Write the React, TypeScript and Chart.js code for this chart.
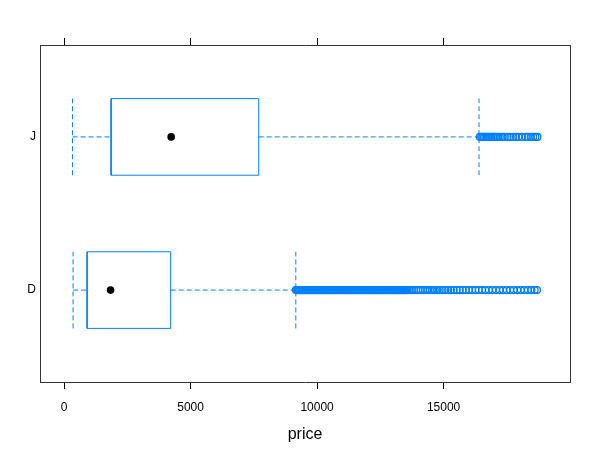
import React, { useEffect, useRef } from "react";
import { Chart, registerables } from "chart.js";

Chart.register(...registerables);

// Categories (bottom to top)
const categories = ["D", "J"];
const categoryPos = [1, 2];

// Five-number summaries
const lowerWhisker = [357, 335];
const q1 = [911, 1860];
const median = [1838, 4234];
const q3 = [4214, 7695];
const upperWhisker = [9160, 16400];

// Outliers
const outliersD = [
  9160, 9195, 9232, 9270, 9306, 9345, 9381, 9420, 9457, 9494, 9532, 9570, 9607,
  9645, 9683, 9720, 9758, 9796, 9833, 9871, 9909, 9946, 9984, 10022, 10060,
  10098, 10135, 10173, 10211, 10249, 10287, 10325, 10362, 10400, 10438, 10476,
  10514, 10552, 10590, 10628, 10666, 10704, 10742, 10780, 10818, 10856, 10894,
  10932, 10970, 11008, 11046, 11084, 11122, 11160, 11198, 11236, 11274, 11312,
  11350, 11388, 11426, 11464, 11502, 11540, 11578, 11616, 11654, 11692, 11730,
  11768, 11806, 11844, 11882, 11920, 11958, 11996, 12034, 12072, 12110, 12148,
  12186, 12224, 12262, 12300, 12338, 12376, 12414, 12452, 12490, 12528, 12566,
  12604, 12642, 12680, 12718, 12756, 12794, 12832, 12870, 12908, 12946, 12984,
  13022, 13060, 13098, 13136, 13174, 13212, 13250, 13288, 13326, 13364, 13402,
  13440, 13478, 13516, 13580, 13660, 13745, 13830, 13915, 14000, 14090, 14180,
  14270, 14360, 14455, 14550, 14650, 14750, 14850, 14960, 15070, 15180, 15290,
  15400, 15520, 15640, 15760, 15880, 16000, 16130, 16260, 16390, 16520, 16650,
  16790, 16930, 17070, 17210, 17350, 17490, 17630, 17770, 17910, 18050, 18190,
  18330, 18470, 18600, 18693,
];
const outliersJ = [
  16430, 16480, 16538, 16590, 16650, 16712, 16770, 16830, 16890, 16951, 17010,
  17070, 17133, 17221, 17327, 17420, 17530, 17640, 17760, 17862, 17954, 18097,
  18245, 18331, 18440, 18540, 18630, 18710,
];

const xTicks = [0, 5000, 10000, 15000];
const xMin = -951;
const xMax = 19996;
const yMin = 0.4;
const yMax = 2.6;
const half = 0.25;

const BLUE = "#0080ff";
const FONT = "'Liberation Sans', Arial, Helvetica, sans-serif";

export default function App() {
  const ref = useRef<HTMLCanvasElement>(null);

  useEffect(() => {
    document.body.style.margin = "0";
    const datasets: any[] = [];
    const outs = [outliersD, outliersJ];
    categories.forEach((_, i) => {
      const g = categoryPos[i];
      const line = (data: any[], dashed: boolean) => ({
        data,
        showLine: true,
        borderColor: BLUE,
        borderWidth: 1,
        pointRadius: 0,
        fill: false,
        borderDash: dashed ? [5, 3] : [],
      });
      datasets.push(
        line(
          [
            { x: q1[i], y: g - half },
            { x: q3[i], y: g - half },
            { x: q3[i], y: g + half },
            { x: q1[i], y: g + half },
            { x: q1[i], y: g - half },
          ],
          false
        )
      );
      datasets.push(line([{ x: lowerWhisker[i], y: g }, { x: q1[i], y: g }], true));
      datasets.push(line([{ x: q3[i], y: g }, { x: upperWhisker[i], y: g }], true));
      datasets.push(
        line([{ x: lowerWhisker[i], y: g - half }, { x: lowerWhisker[i], y: g + half }], true)
      );
      datasets.push(
        line([{ x: upperWhisker[i], y: g - half }, { x: upperWhisker[i], y: g + half }], true)
      );
      datasets.push({
        data: outs[i].map((v) => ({ x: v, y: g })),
        showLine: false,
        pointRadius: 3.4,
        pointBorderWidth: 1.3,
        pointBorderColor: BLUE,
        pointBackgroundColor: "rgba(0,0,0,0)",
      });
      datasets.push({
        data: [{ x: median[i], y: g }],
        showLine: false,
        pointRadius: 3.8,
        pointBorderWidth: 0,
        pointBackgroundColor: "#000",
        pointBorderColor: "#000",
      });
    });

    const setTicks = (s: any) => {
      s.ticks = xTicks.map((v) => ({ value: v }));
    };

    const chart = new Chart(ref.current!, {
      type: "scatter",
      data: { datasets },
      options: {
        animation: false,
        responsive: false,
        devicePixelRatio: 1,
        layout: { padding: 0 },
        plugins: { legend: { display: false }, tooltip: { enabled: false } },
        scales: {
          x: {
            type: "linear",
            position: "bottom",
            min: xMin,
            max: xMax,
            afterBuildTicks: setTicks,
            afterFit: (s: any) => {
              s.height = 68;
            },
            ticks: {
              color: "#000",
              font: { size: 12, family: FONT },
              padding: 11,
              maxRotation: 0,
              autoSkip: false,
              callback: (v: any) => String(v),
            },
            grid: { drawOnChartArea: false, drawTicks: true, tickLength: 7, color: "#000" },
            border: { display: true, color: "#333", width: 1 },
            title: {
              display: true,
              text: "price",
              color: "#000",
              font: { size: 16, family: FONT },
              padding: { top: 4, bottom: 6 },
            },
          },
          x2: {
            type: "linear",
            position: "top",
            min: xMin,
            max: xMax,
            afterBuildTicks: setTicks,
            afterFit: (s: any) => {
              s.height = 45;
            },
            ticks: { display: false },
            grid: { drawOnChartArea: false, drawTicks: true, tickLength: 7, color: "#000" },
            border: { display: true, color: "#333", width: 1 },
          },
          y: {
            type: "linear",
            position: "left",
            min: yMin,
            max: yMax,
            afterBuildTicks: (s: any) => {
              s.ticks = categoryPos.map((v) => ({ value: v }));
            },
            afterFit: (s: any) => {
              s.width = 40;
            },
            ticks: {
              color: "#000",
              font: { size: 12, family: FONT },
              padding: 4,
              callback: (v: any) => {
                const idx = categoryPos.indexOf(Number(v));
                return idx >= 0 ? categories[idx] : "";
              },
            },
            grid: { drawOnChartArea: false, drawTicks: false },
            border: { display: true, color: "#333", width: 1 },
          },
          y2: {
            type: "linear",
            position: "right",
            min: yMin,
            max: yMax,
            afterFit: (s: any) => {
              s.width = 30;
            },
            ticks: { display: false },
            grid: { drawOnChartArea: false, drawTicks: false },
            border: { display: true, color: "#333", width: 1 },
          },
        },
      },
    });
    return () => chart.destroy();
  }, []);

  return (
    <div style={{ width: 600, height: 450 }}>
      <canvas ref={ref} width={600} height={450} style={{ display: "block" }} />
    </div>
  );
}
